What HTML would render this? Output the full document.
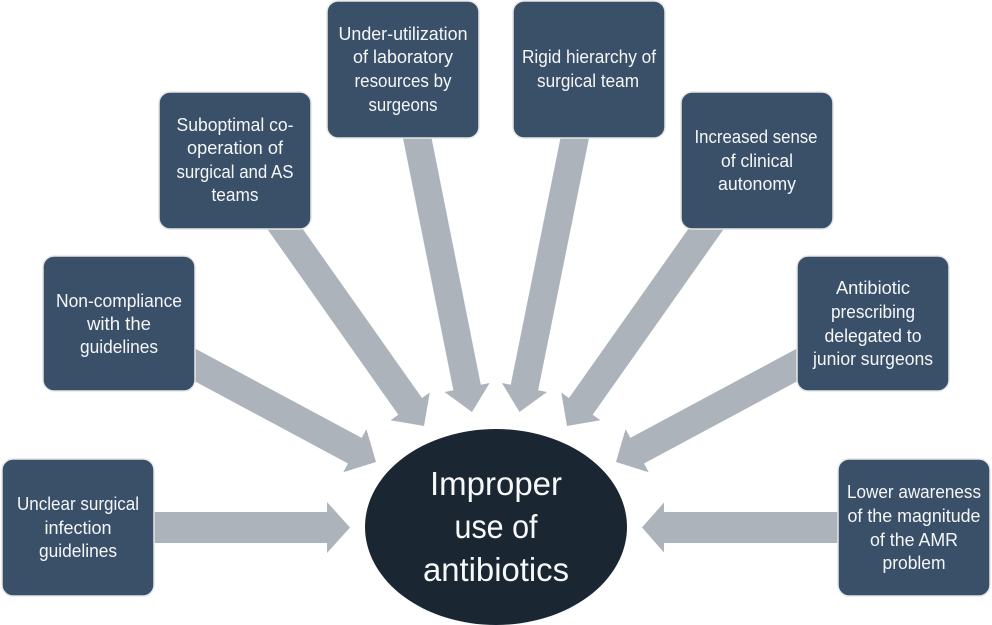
<!DOCTYPE html>
<html>
<head>
<meta charset="utf-8">
<style>
html,body{margin:0;padding:0;background:#fff;width:992px;height:625px;overflow:hidden}
svg{display:block}
text{font-family:"Liberation Sans",sans-serif;font-size:18px;fill:#f4f6f8;text-anchor:middle}
.big{font-size:33px;fill:#f7f8f9}
rect{fill:#3a5068;stroke:#e6e6e6;stroke-width:1.5}
polygon{fill:#adb3ba}
</style>
</head>
<body>
<svg width="992" height="625" viewBox="0 0 992 625" xmlns="http://www.w3.org/2000/svg">
<polygon transform="translate(350,527.5)" points="0,0 -23,25.5 -23,15.5 -200,15.5 -200,-15.5 -23,-15.5 -23,-25.5"/>
<polygon transform="translate(376,462) rotate(28.2)" points="0,0 -24,24.5 -24,14.5 -224,14.5 -224,-14.5 -24,-14.5 -24,-24.5"/>
<polygon transform="translate(424,426) rotate(54.8)" points="0,0 -24,24 -24,14.5 -261,14.5 -261,-14.5 -24,-14.5 -24,-24"/>
<polygon transform="translate(472,412) rotate(78.7)" points="0,0 -25,23 -25,14 -298,14 -298,-14 -25,-14 -25,-23"/>
<polygon transform="translate(519.5,412) rotate(101.4)" points="0,0 -25,23 -25,14 -298,14 -298,-14 -25,-14 -25,-23"/>
<polygon transform="translate(567,426) rotate(125.2)" points="0,0 -24,24 -24,14.5 -261,14.5 -261,-14.5 -24,-14.5 -24,-24"/>
<polygon transform="translate(616,462) rotate(151.8)" points="0,0 -24,24.5 -24,14.5 -224,14.5 -224,-14.5 -24,-14.5 -24,-24.5"/>
<polygon transform="translate(642,527.5) rotate(180)" points="0,0 -22,25 -22,15.5 -200,15.5 -200,-15.5 -22,-15.5 -22,-25"/>

<rect x="2" y="459" width="152" height="137" rx="11"/>
<rect x="43" y="256" width="152" height="135" rx="11"/>
<rect x="159" y="92" width="152" height="137" rx="11"/>
<rect x="327" y="1" width="152" height="137" rx="11"/>
<rect x="513" y="1" width="152" height="137" rx="11"/>
<rect x="681" y="92" width="152" height="137" rx="11"/>
<rect x="797" y="256" width="152" height="135" rx="11"/>
<rect x="838" y="459" width="152" height="137" rx="11"/>

<ellipse cx="496" cy="527" rx="131" ry="98" fill="#1a2732"/>

<text x="78" y="510" textLength="122" lengthAdjust="spacingAndGlyphs">Unclear surgical</text>
<text x="78" y="534" textLength="67" lengthAdjust="spacingAndGlyphs">infection</text>
<text x="78" y="557" textLength="78" lengthAdjust="spacingAndGlyphs">guidelines</text>

<text x="119" y="307" textLength="126" lengthAdjust="spacingAndGlyphs">Non-compliance</text>
<text x="119" y="330" textLength="64" lengthAdjust="spacingAndGlyphs">with the</text>
<text x="119" y="353" textLength="78" lengthAdjust="spacingAndGlyphs">guidelines</text>

<text x="235" y="131" textLength="117" lengthAdjust="spacingAndGlyphs">Suboptimal co-</text>
<text x="235" y="154" textLength="96" lengthAdjust="spacingAndGlyphs">operation of</text>
<text x="235" y="178" textLength="117" lengthAdjust="spacingAndGlyphs">surgical and AS</text>
<text x="235" y="201" textLength="47" lengthAdjust="spacingAndGlyphs">teams</text>

<text x="403" y="40" textLength="129" lengthAdjust="spacingAndGlyphs">Under-utilization</text>
<text x="403" y="63" textLength="100" lengthAdjust="spacingAndGlyphs">of laboratory</text>
<text x="403" y="87" textLength="97" lengthAdjust="spacingAndGlyphs">resources by</text>
<text x="403" y="111" textLength="69" lengthAdjust="spacingAndGlyphs">surgeons</text>

<text x="589" y="63" textLength="134" lengthAdjust="spacingAndGlyphs">Rigid hierarchy of</text>
<text x="588" y="87" textLength="102" lengthAdjust="spacingAndGlyphs">surgical team</text>

<text x="756" y="143" textLength="123" lengthAdjust="spacingAndGlyphs">Increased sense</text>
<text x="757" y="167" textLength="72" lengthAdjust="spacingAndGlyphs">of clinical</text>
<text x="757" y="190" textLength="78" lengthAdjust="spacingAndGlyphs">autonomy</text>

<text x="873" y="294" textLength="74" lengthAdjust="spacingAndGlyphs">Antibiotic</text>
<text x="873" y="318" textLength="84" lengthAdjust="spacingAndGlyphs">prescribing</text>
<text x="873" y="342" textLength="97" lengthAdjust="spacingAndGlyphs">delegated to</text>
<text x="873" y="365" textLength="120" lengthAdjust="spacingAndGlyphs">junior surgeons</text>

<text x="914" y="498" textLength="134" lengthAdjust="spacingAndGlyphs">Lower awareness</text>
<text x="914" y="522" textLength="133" lengthAdjust="spacingAndGlyphs">of the magnitude</text>
<text x="914" y="546" textLength="88" lengthAdjust="spacingAndGlyphs">of the AMR</text>
<text x="914" y="569" textLength="63" lengthAdjust="spacingAndGlyphs">problem</text>

<text class="big" x="496" y="495" textLength="132" lengthAdjust="spacingAndGlyphs">Improper</text>
<text class="big" x="496" y="538" textLength="83" lengthAdjust="spacingAndGlyphs">use of</text>
<text class="big" x="496" y="581" textLength="146" lengthAdjust="spacingAndGlyphs">antibiotics</text>
</svg>
</body>
</html>
